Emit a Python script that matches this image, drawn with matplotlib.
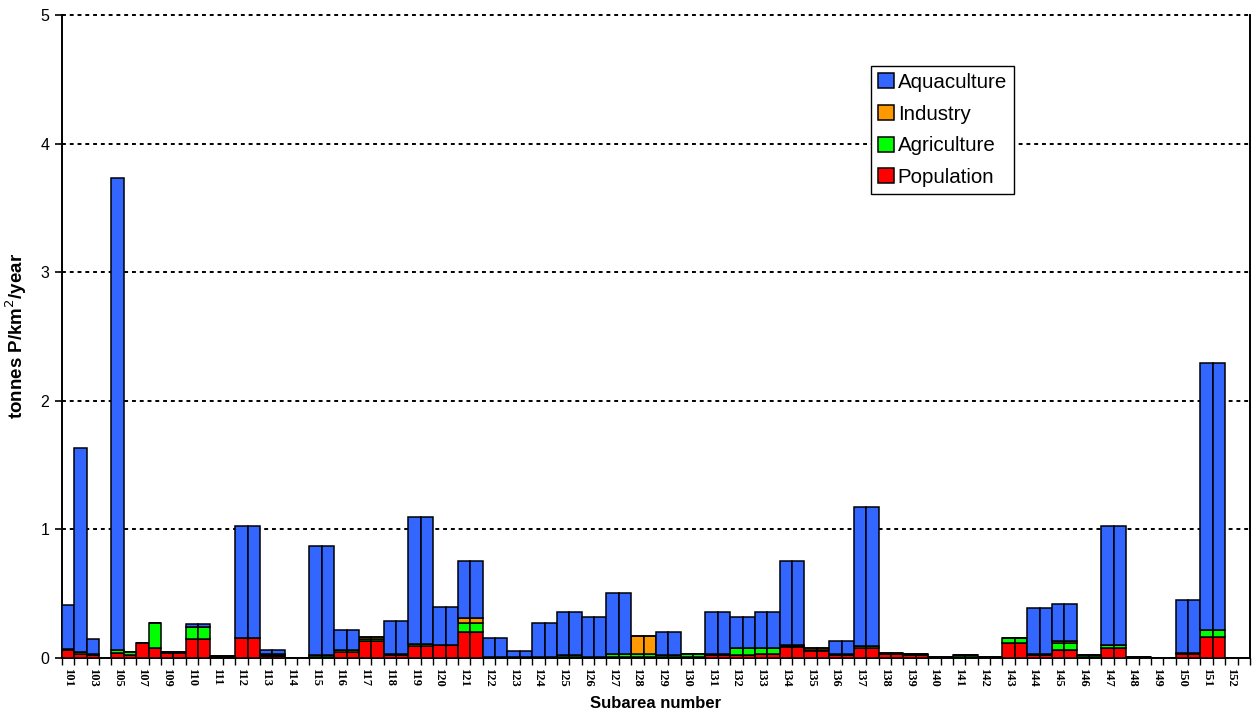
import numpy as np
import matplotlib
matplotlib.use("Agg")
import matplotlib.pyplot as plt

# one slot per category on the x axis (labels shown on every second slot)
tick_labels = ["101", "103", "105", "107", "109", "110", "111", "112", "113", "114",
               "115", "116", "117", "118", "119", "120", "121", "122", "123", "124",
               "125", "126", "127", "128", "129", "130", "131", "132", "133", "134",
               "135", "136", "137", "138", "139", "140", "141", "142", "143", "144",
               "145", "146", "147", "148", "149", "150", "151", "152"]

population = [0.06, 0.03, 0.02, 0.0, 0.04, 0.025, 0.12, 0.08, 0.04, 0.04,
              0.15, 0.15, 0.005, 0.005, 0.155, 0.155, 0.015, 0.015, 0.003, 0.003,
              0.01, 0.01, 0.05, 0.05, 0.135, 0.135, 0.025, 0.025, 0.09, 0.09,
              0.10, 0.10, 0.205, 0.205, 0.005, 0.005, 0.005, 0.005, 0.005, 0.005,
              0.01, 0.01, 0.005, 0.005, 0.01, 0.01, 0.01, 0.01, 0.01, 0.01,
              0.005, 0.005, 0.02, 0.02, 0.02, 0.02, 0.03, 0.03, 0.085, 0.085,
              0.055, 0.055, 0.025, 0.025, 0.075, 0.075, 0.03, 0.03, 0.025, 0.025,
              0.003, 0.003, 0.01, 0.01, 0.005, 0.005, 0.115, 0.115, 0.02, 0.02,
              0.065, 0.065, 0.005, 0.005, 0.075, 0.075, 0.005, 0.005, 0.003, 0.003,
              0.03, 0.03, 0.16, 0.16, 0.0, 0.0]

agriculture = [0.01, 0.02, 0.01, 0.0, 0.025, 0.02, 0.0, 0.19, 0.01, 0.01,
               0.095, 0.095, 0.008, 0.008, 0.0, 0.0, 0.005, 0.005, 0.0, 0.0,
               0.01, 0.01, 0.01, 0.01, 0.015, 0.015, 0.01, 0.01, 0.02, 0.02,
               0.005, 0.005, 0.07, 0.07, 0.005, 0.005, 0.0, 0.0, 0.0, 0.0,
               0.01, 0.01, 0.0, 0.0, 0.025, 0.025, 0.025, 0.025, 0.01, 0.01,
               0.028, 0.028, 0.015, 0.015, 0.055, 0.055, 0.045, 0.045, 0.01, 0.01,
               0.005, 0.005, 0.01, 0.01, 0.015, 0.015, 0.005, 0.005, 0.005, 0.005,
               0.002, 0.002, 0.01, 0.01, 0.003, 0.003, 0.04, 0.04, 0.01, 0.01,
               0.05, 0.05, 0.015, 0.015, 0.025, 0.025, 0.005, 0.005, 0.0, 0.0,
               0.01, 0.01, 0.06, 0.06, 0.0, 0.0]

industry = [0.0, 0.0, 0.0, 0.0, 0.0, 0.0, 0.0, 0.0, 0.0, 0.0,
            0.0, 0.0, 0.0, 0.0, 0.0, 0.0, 0.015, 0.015, 0.0, 0.0,
            0.0, 0.0, 0.0, 0.0, 0.01, 0.01, 0.0, 0.0, 0.0, 0.0,
            0.0, 0.0, 0.04, 0.04, 0.0, 0.0, 0.0, 0.0, 0.0, 0.0,
            0.0, 0.0, 0.0, 0.0, 0.0, 0.0, 0.138, 0.138, 0.0, 0.0,
            0.0, 0.0, 0.0, 0.0, 0.0, 0.0, 0.0, 0.0, 0.005, 0.005,
            0.02, 0.02, 0.0, 0.0, 0.0, 0.0, 0.005, 0.005, 0.0, 0.0,
            0.0, 0.0, 0.0, 0.0, 0.0, 0.0, 0.0, 0.0, 0.0, 0.0,
            0.02, 0.02, 0.0, 0.0, 0.0, 0.0, 0.0, 0.0, 0.0, 0.0,
            0.0, 0.0, 0.0, 0.0, 0.0, 0.0]

aquaculture = [0.34, 1.58, 0.12, 0.0, 3.665, 0.005, 0.0, 0.0, 0.0, 0.0,
               0.02, 0.02, 0.0, 0.0, 0.87, 0.87, 0.03, 0.03, 0.0, 0.0,
               0.85, 0.85, 0.155, 0.155, 0.0, 0.0, 0.255, 0.255, 0.985, 0.985,
               0.295, 0.295, 0.442, 0.442, 0.145, 0.145, 0.049, 0.049, 0.267, 0.267,
               0.34, 0.34, 0.311, 0.311, 0.473, 0.473, 0.0, 0.0, 0.18, 0.18,
               0.0, 0.0, 0.32, 0.32, 0.244, 0.244, 0.285, 0.285, 0.657, 0.657,
               0.0, 0.0, 0.10, 0.10, 1.084, 1.084, 0.0, 0.0, 0.005, 0.005,
               0.0, 0.0, 0.0, 0.0, 0.0, 0.0, 0.0, 0.0, 0.356, 0.356,
               0.287, 0.287, 0.0, 0.0, 0.93, 0.93, 0.0, 0.0, 0.0, 0.0,
               0.41, 0.41, 2.074, 2.074, 0.0, 0.0]

plt.rcParams["font.family"] = ["Liberation Sans", "DejaVu Sans"]

fig = plt.figure(figsize=(12.55, 7.13), dpi=100)
ax = fig.add_axes([0.0494, 0.0771, 0.9466, 0.902])

x = np.arange(len(population))
series = [("Population", population, "#FF0000"),
          ("Agriculture", agriculture, "#00FF00"),
          ("Industry", industry, "#FF9900"),
          ("Aquaculture", aquaculture, "#3366FF")]

bottom = np.zeros(len(x))
handles = []
for name, vals, col in series:
    vals = np.array(vals)
    b = ax.bar(x, vals, width=1.0, bottom=bottom, color=col, edgecolor="black",
               linewidth=1.1, label=name, zorder=3)
    handles.append(b)
    bottom += vals

# dotted gridlines
for yv in [1, 2, 3, 4, 5]:
    ax.axhline(yv, color="black", lw=1.4, ls=(0, (2, 2)), zorder=1, clip_on=False)

ax.set_xlim(-0.5, len(x) - 0.5)
ax.set_ylim(0, 5)
ax.set_yticks([0, 1, 2, 3, 4, 5])
ax.tick_params(axis="y", labelsize=11.5, length=5, width=1.2, direction="out", pad=4)

ax.set_xticks(x[::2])
ax.set_xticklabels(tick_labels, rotation=270, fontfamily="Liberation Serif",
                   fontweight="bold", fontsize=9)
ax.tick_params(axis="x", length=0, pad=7)
ax.set_xticks(np.arange(len(x) + 1) - 0.5, minor=True)
ax.tick_params(axis="x", which="minor", length=5, width=1.0, direction="out")

ax.spines["top"].set_visible(False)
for s in ["left", "bottom", "right"]:
    ax.spines[s].set_linewidth(1.4)

ax.set_xlabel("Subarea number", fontweight="bold", fontsize=12, labelpad=7)
ax.set_ylabel("tonnes P/km$^2$/year", fontweight="bold", fontsize=13.5, labelpad=8)

leg = ax.legend(handles[::-1], [h.get_label() for h in handles[::-1]],
                loc="upper left", bbox_to_anchor=(0.681, 0.921), fontsize=14.8,
                frameon=True, fancybox=False, framealpha=1, edgecolor="black",
                handlelength=0.75, handleheight=0.75, handletextpad=0.2,
                labelspacing=0.62, borderpad=0.35, borderaxespad=0)
leg.get_frame().set_linewidth(1.0)
leg.set_zorder(5)

fig.savefig("out.png", dpi=100)
